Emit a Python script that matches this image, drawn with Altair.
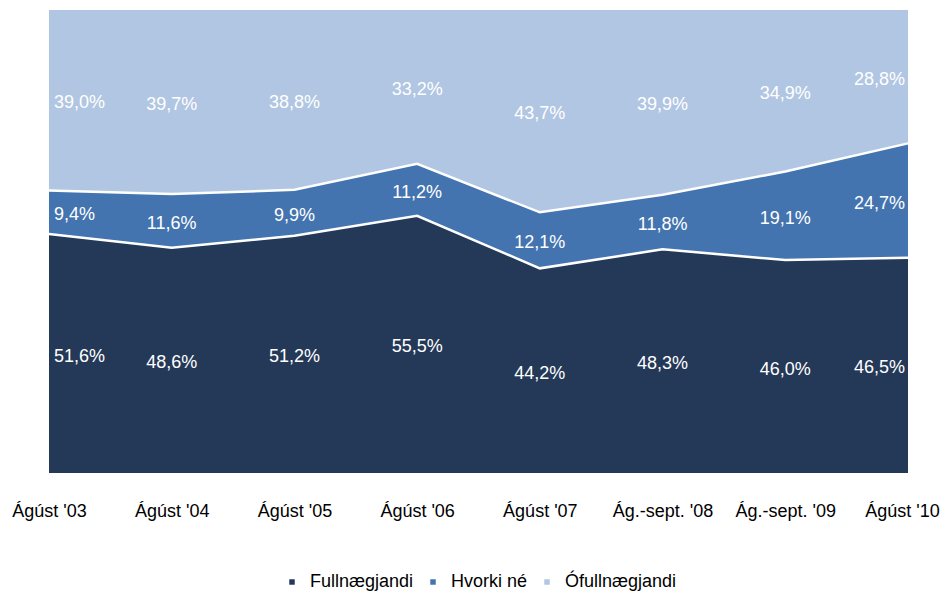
import altair as alt
import pandas as pd

categories = ["Ágúst '03", "Ágúst '04", "Ágúst '05", "Ágúst '06", "Ágúst '07",
              "Ág.-sept. '08", "Ág.-sept. '09", "Ágúst '10"]
series = ["Fullnægjandi", "Hvorki né", "Ófullnægjandi"]
fullnaegjandi = [51.6, 48.6, 51.2, 55.5, 44.2, 48.3, 46.0, 46.5]
hvorki_ne = [9.4, 11.6, 9.9, 11.2, 12.1, 11.8, 19.1, 24.7]
ofullnaegjandi = [39.0, 39.7, 38.8, 33.2, 43.7, 39.9, 34.9, 28.8]
colors = ["#243858", "#4474AF", "#B1C6E2"]

rows = []
for si, (name, vals) in enumerate(zip(series, [fullnaegjandi, hvorki_ne, ofullnaegjandi])):
    for ci, (cat, v) in enumerate(zip(categories, vals)):
        rows.append({"cat": cat, "idx": ci, "series": name, "order": si, "value": v})
df = pd.DataFrame(rows)

FONT = "Liberation Sans"
FS = 18

base = alt.Chart(df).transform_stack(
    stack="value", groupby=["cat"], as_=["y0", "y1"], offset="normalize",
    sort=[alt.SortField("order", order="ascending")]
).transform_calculate(
    ymid="(datum.y0 + datum.y1) / 2",
    label="replace(format(datum.value, '.1f'), '.', ',') + '%'"
)

last_cat = categories[-1]
xenc = alt.X("cat:N", sort=categories,
             scale=alt.Scale(type="point", padding=0),
             axis=alt.Axis(title=None, labelAngle=0, domain=False, ticks=False,
                           labelPadding=29, labelFont=FONT, labelFontSize=FS,
                           labelColor="#000000",
                           labelOffset={"condition": {"test": "datum.value == \"" + last_cat + "\"",
                                                      "value": -6},
                                        "value": 0}))
yscale = alt.Scale(domain=[0, 1])

areas = base.mark_area(opacity=1, interpolate="linear").encode(
    x=xenc,
    y=alt.Y("y0:Q", scale=yscale, axis=None),
    y2="y1:Q",
    color=alt.Color("series:N", sort=series,
                    scale=alt.Scale(domain=series, range=colors),
                    legend=alt.Legend(title=None, orient="none", direction="horizontal",
                                      legendX=234, legendY=563,
                                      symbolType="square", symbolSize=30,
                                      labelFont=FONT, labelFontSize=FS,
                                      labelColor="#000000", columnPadding=10,
                                      labelOffset=9)),
    detail="series:N",
)

lines = base.transform_filter("datum.order < 2").mark_line(
    color="white", strokeWidth=2.5, interpolate="linear"
).encode(
    x=alt.X("cat:N", sort=categories, scale=alt.Scale(type="point", padding=0)),
    y=alt.Y("y1:Q", scale=yscale),
    detail="series:N",
)

def text_layer(filt, align, dx):
    return base.transform_filter(filt).mark_text(
        color="white", font=FONT, fontSize=FS, align=align, dx=dx, dy=3, baseline="middle"
    ).encode(
        x=alt.X("cat:N", sort=categories, scale=alt.Scale(type="point", padding=0)),
        y=alt.Y("ymid:Q", scale=yscale),
        text="label:N",
    )

t_first = text_layer("datum.idx == 0", "left", 5)
t_mid = text_layer("datum.idx > 0 && datum.idx < 7", "center", 0)
t_last = text_layer("datum.idx == 7", "right", -3)

chart = alt.layer(areas, lines, t_first, t_mid, t_last).properties(
    width=859, height=463,
    autosize=alt.AutoSizeParams(type="none"),
    padding={"left": 41, "top": 2, "right": 32, "bottom": 120},
).configure_view(stroke=None)

chart.save("out.html", embed_options={"renderer": "svg", "actions": False})
